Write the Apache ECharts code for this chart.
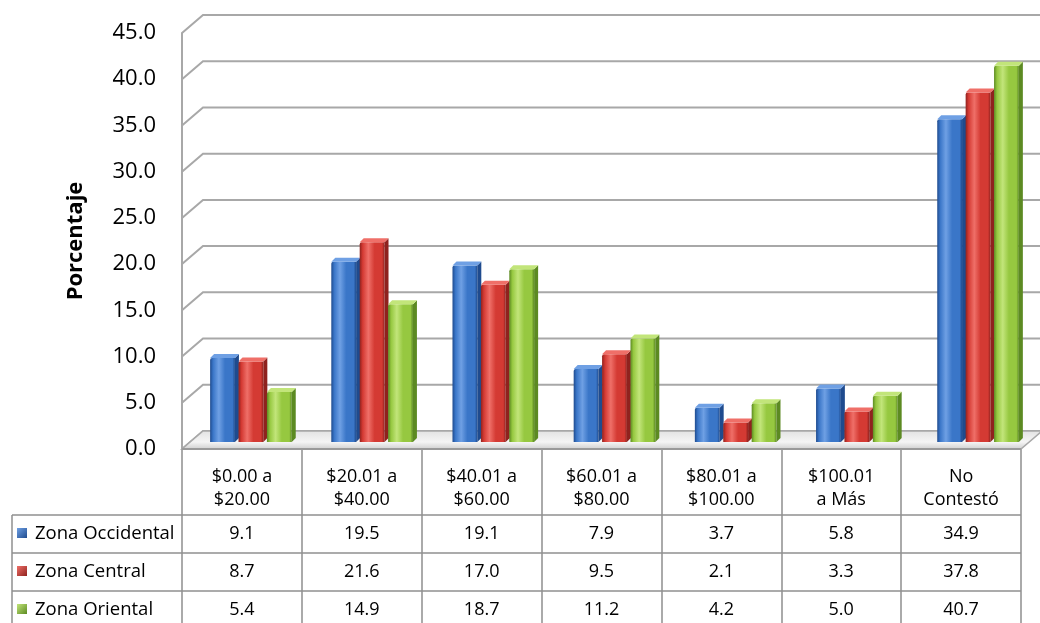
<!DOCTYPE html>
<html><head><meta charset="utf-8">
<script src="https://cdn.jsdelivr.net/npm/echarts@6.0.0/dist/echarts.min.js"></script>
<style>html,body{margin:0;padding:0;background:#fff}#c{width:1040px;height:623px}</style>
</head><body><div id="c"></div>
<script>
// ---- data ----
const categories = ['$0.00 a\n$20.00','$20.01 a\n$40.00','$40.01 a\n$60.00','$60.01 a\n$80.00','$80.01 a\n$100.00','$100.01\na Más','No\nContestó'];
const seriesNames = ['Zona Occidental','Zona Central','Zona Oriental'];
const occidental = [9.1,19.5,19.1,7.9,3.7,5.8,34.9];
const central    = [8.7,21.6,17.0,9.5,2.1,3.3,37.8];
const oriental   = [5.4,14.9,18.7,11.2,4.2,5.0,40.7];
const yTicks = [0,5,10,15,20,25,30,35,40,45];
const yAxisTitle = 'Porcentaje';

// ---- style ----
const FONT = 'Open Sans';
const base  = ['#3a76c8','#d43a33','#96c840'];
const light = ['#6fa0e4','#ef6f68','#c2e57a'];
const dark  = ['#1f4b8e','#8f221e','#5c8a22'];
const GRID = {left:182, top:33, width:839, height:416};
const DX = 21, DY = -18;           // depth offset to back wall
const ROWS = [66, 104, 142, 180];   // table row lines below axis
const LINE = '#8f8f8f';
const allSeries = [occidental, central, oriental];

function renderWall(params, api){
  const cs = params.coordSys;
  const y = api.coord([0, api.value(1)])[1];
  return {type:'polyline', silent:true,
    shape:{points:[[cs.x, y],[cs.x+DX, y+DY],[cs.x+cs.width+80, y+DY]]},
    style:{stroke:'#a8a8a8', lineWidth:2, fill:null}};
}
function renderFloor(params, api){
  const cs = params.coordSys;
  const y = api.coord([0, 0])[1];
  const xr = cs.x + cs.width;
  return {type:'group', silent:true, children:[
    {type:'polygon', shape:{points:[[cs.x,y],[xr,y],[xr+DX,y+DY],[cs.x+DX,y+DY]]},
     style:{fill:new echarts.graphic.LinearGradient(0,0,0,1,[{offset:0,color:'#e2e2e2'},{offset:0.6,color:'#f5f5f5'},{offset:1,color:'#cdcdcd'}]), stroke:'#a8a8a8', lineWidth:1.5}},
    {type:'line', shape:{x1:cs.x, y1:y, x2:xr, y2:y}, style:{stroke:'#9a9a9a', lineWidth:2}}
  ]};
}
function makeBarRender(s){
  return function(params, api){
    const cat = api.value(0), v = api.value(1);
    const b = api.coord([cat, 0]), t = api.coord([cat, v]);
    const bw = api.size([1, 0])[0];
    const sx = 11 + cat*1.33, sy = -7;
    const pitch = bw*0.237, fw = bw*0.207, d = 4;
    const x0 = b[0] + sx - (2*pitch + fw + d)/2 + s*pitch;
    const yb = b[1] + sy, yt = t[1] + sy;
    return {type:'group', children:[
      {type:'polygon', shape:{points:[[x0+fw,yt],[x0+fw+d,yt-d],[x0+fw+d,yb-d],[x0+fw,yb]]}, style:{fill:dark[s]}},
      {type:'rect', shape:{x:x0, y:yt, width:fw, height:yb-yt, r:[2,0,0,0]},
       style:{fill:new echarts.graphic.LinearGradient(0,0,1,0,[{offset:0,color:dark[s]},{offset:0.12,color:base[s]},{offset:0.35,color:light[s]},{offset:0.6,color:base[s]},{offset:0.9,color:base[s]},{offset:1,color:dark[s]}])}},
      {type:'polygon', shape:{points:[[x0,yt],[x0+d,yt-d],[x0+fw+d,yt-d],[x0+fw,yt]]}, style:{fill:light[s]}}
    ]};
  };
}
function renderTableLines(params, api){
  const cs = params.coordSys;
  const y0 = cs.y + cs.height;
  const xr = cs.x + cs.width;
  const ch = [];
  for (let i = 0; i < 3; i++) {
    ch.push({type:'line', shape:{x1:12, y1:y0+ROWS[i], x2:xr, y2:y0+ROWS[i]}, style:{stroke:LINE, lineWidth:1.5}});
  }
  ch.push({type:'line', shape:{x1:12, y1:y0+ROWS[0], x2:12, y2:y0+ROWS[3]+20}, style:{stroke:LINE, lineWidth:1.5}});
  // legend keys + series names
  for (let s = 0; s < 3; s++) {
    const yc = y0 + (ROWS[s] + ROWS[s+1]) / 2;
    ch.push({type:'rect', shape:{x:17, y:yc-6, width:10, height:10},
      style:{fill:new echarts.graphic.LinearGradient(0,0,1,1,[{offset:0,color:light[s]},{offset:1,color:dark[s]}])}});
    ch.push({type:'text', x:35, y:yc, style:{text:seriesNames[s], fill:'#000', font:'18.5px "'+FONT+'"', align:'left', verticalAlign:'middle'}});
  }
  return {type:'group', silent:true, children:ch};
}
function renderCell(params, api){
  const cs = params.coordSys;
  const y0 = cs.y + cs.height;
  const cat = api.value(0), s = api.value(1), val = api.value(2);
  const x = api.coord([cat, 0])[0];
  const y = y0 + (ROWS[s] + ROWS[s+1]) / 2;
  return {type:'text', silent:true, x:x, y:y,
    style:{text:val.toFixed(1), fill:'#000', font:'18px "'+FONT+'"', align:'center', verticalAlign:'middle'}};
}

const cellData = [];
allSeries.forEach((arr, s) => arr.forEach((v, i) => cellData.push([i, s, v])));

const series = [
  {type:'custom', name:'walls', data:yTicks.map(v=>[0,v]), renderItem:renderWall, clip:false, z:1, silent:true},
  {type:'custom', name:'floor', data:[[0,0]], renderItem:renderFloor, clip:false, z:2, silent:true},
];
allSeries.forEach((arr, s) => {
  series.push({type:'custom', name:seriesNames[s], data:arr.map((v,i)=>[i,v]),
    renderItem:makeBarRender(s), clip:false, z:3, itemStyle:{color:base[s]}});
});
series.push({type:'custom', name:'tableLines', data:[[0,0]], renderItem:renderTableLines, clip:false, z:4, silent:true});
series.push({type:'custom', name:'cells', data:cellData, renderItem:renderCell, clip:false, z:5, silent:true,
  encode:{x:0, y:1}});

const chart = echarts.init(document.getElementById('c'), null, {renderer:'canvas'});
chart.setOption({
  animation:false,
  backgroundColor:'#fff',
  textStyle:{fontFamily:FONT},
  grid:{left:GRID.left, top:GRID.top, width:GRID.width, height:GRID.height, containLabel:false, outerBoundsMode:'none'},
  xAxis:{type:'category', data:categories,
    axisLine:{show:false},
    axisTick:{show:true, length:190, lineStyle:{color:LINE, width:1.5}},
    axisLabel:{interval:0, fontSize:18, lineHeight:23, color:'#000', margin:16, fontFamily:FONT},
    splitLine:{show:false}},
  yAxis:{type:'value', min:0, max:45, interval:5,
    name:yAxisTitle, nameLocation:'middle', nameGap:95, nameRotate:90,
    nameTextStyle:{fontSize:22, fontWeight:'bold', color:'#000', fontFamily:FONT},
    axisLine:{show:true, lineStyle:{color:'#a8a8a8', width:2}},
    axisTick:{show:false},
    splitLine:{show:false},
    axisLabel:{formatter:v=>v.toFixed(1), fontSize:22, color:'#000', margin:26, fontFamily:FONT}},
  series:series
});
</script>
</body></html>
